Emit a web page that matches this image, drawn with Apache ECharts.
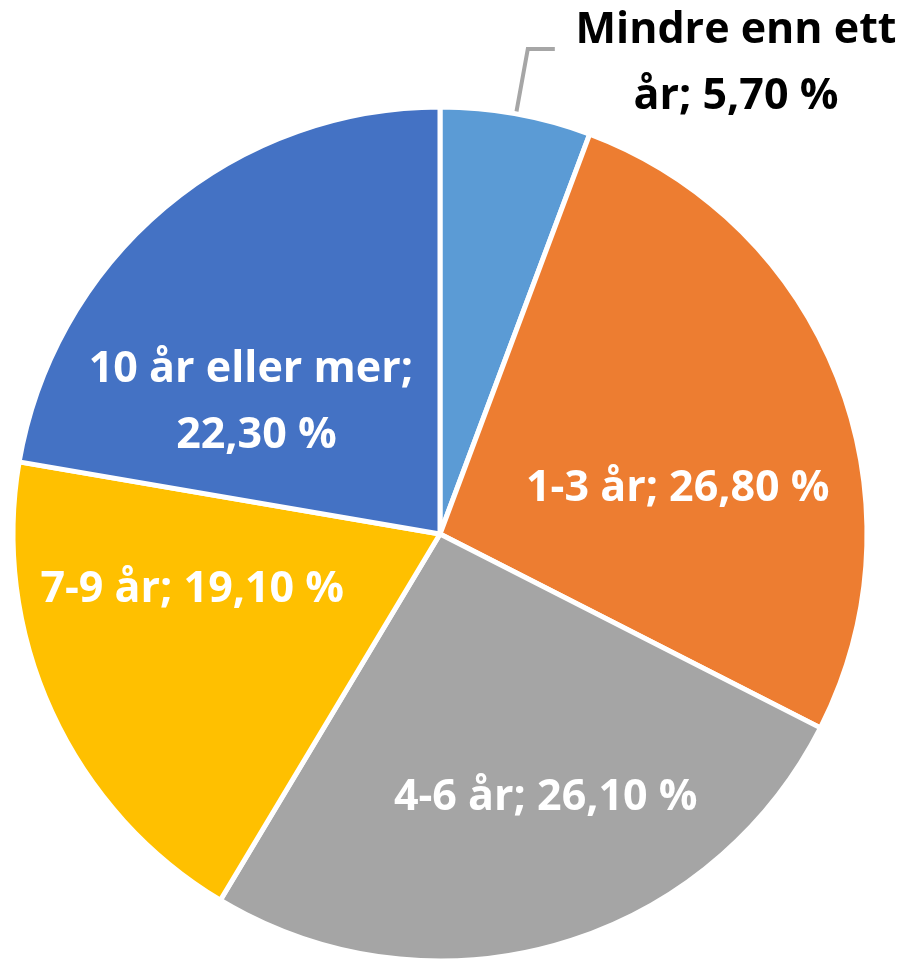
<!DOCTYPE html>
<html>
<head>
<meta charset="utf-8">
<script src="https://cdn.jsdelivr.net/npm/echarts@6/dist/echarts.min.js"></script>
<style>
  html, body { margin: 0; padding: 0; background: #fff; }
  #chart { width: 920px; height: 960px; }
</style>
</head>
<body>
<div id="chart"></div>
<script>
// kategorier og andeler (prosent)
const categories = ["Mindre enn ett år", "1-3 år", "4-6 år", "7-9 år", "10 år eller mer"];
const values = [5.7, 26.8, 26.1, 19.1, 22.3];
const colors = ["#5B9BD5", "#ED7D31", "#A5A5A5", "#FFC000", "#4472C4"];
// label text as shown in the chart (line breaks where Excel wrapped)
const labelText = ["Mindre enn ett\når; 5,70 %", "1-3 år; 26,80 %", "4-6 år; 26,10 %", "7-9 år; 19,10 %", "10 år eller mer; \n22,30 %"];

// nudges for inside labels, px
const labelShift = [[0, 0], [36, 33], [46, 56], [-51, -35], [-44, 34]];

const chart = echarts.init(document.getElementById("chart"));

chart.setOption({
  animation: false,
  series: [
    {
      type: "pie",
      center: [440, 534],
      radius: [0, 427],
      startAngle: 90,
      clockwise: true,
      avoidLabelOverlap: false,
      itemStyle: { borderColor: "#fff", borderWidth: 5 },
      label: {
        show: true,
        position: "inside",
        color: "#fff",
        fontFamily: "Open Sans",
        fontWeight: "bold",
        fontSize: 43,
        lineHeight: 66,
        align: "center",
        formatter: p => labelText[p.dataIndex]
      },
      labelLine: { show: false },
      labelLayout: p => {
        if (p.dataIndex === 0) {
          // outside label sits top right, centred; leader goes up then right
          const pts = p.labelLinePoints;
          let line;
          if (pts && pts.length >= 2) {
            const a = pts[0], b = pts[1];
            line = [a, b, [b[0] + 27, b[1]]];
          }
          const out = { x: 736, y: 64, align: "center", verticalAlign: "middle" };
          if (line) out.labelLinePoints = line;
          return out;
        }
        const s = labelShift[p.dataIndex];
        return { dx: s[0], dy: s[1] };
      },
      data: categories.map((c, i) => {
        const d = { name: c, value: values[i], itemStyle: { color: colors[i] } };
        if (i === 0) {
          d.label = { position: "outside", color: "#000", alignTo: "none" };
          d.labelLine = {
            show: true,
            length: 66,
            length2: 27,
            lineStyle: { color: "#A6A6A6", width: 4 }
          };
        }
        return d;
      })
    }
  ]
});
</script>
</body>
</html>
